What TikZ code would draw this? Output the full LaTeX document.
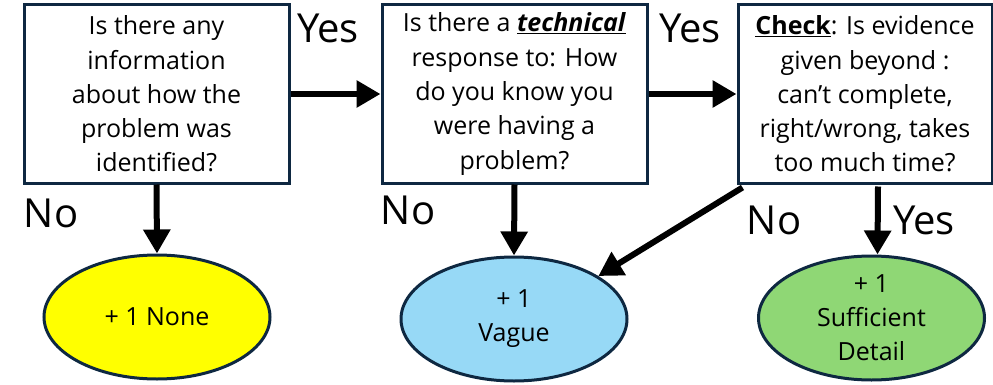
\documentclass[tikz,border=0pt]{standalone}
\usepackage{fontspec}
\setmainfont{Open Sans}
\usetikzlibrary{shapes.geometric,arrows.meta,calc}
\definecolor{navy}{HTML}{0E2841}
\definecolor{eyellow}{HTML}{FFFF00}
\definecolor{eblue}{HTML}{97D9F6}
\definecolor{egreen}{HTML}{8FD775}
\tikzset{
  qbox/.style={draw=navy, line width=3pt, fill=white, minimum height=178pt, inner sep=0pt,
    align=center, font=\fontsize{25}{34.3}\selectfont},
  outcome/.style={ellipse, draw=navy, line width=3pt, minimum width=226pt, minimum height=124pt,
    inner sep=0pt, align=center, font=\fontsize{25}{34}\selectfont},
  flow/.style={line width=6pt, -{Triangle[length=24pt,width=26pt]}},
  answer/.style={font=\fontsize{40}{44}\selectfont, inner sep=0pt}
}
\begin{document}
\begin{tikzpicture}[x=1pt,y=1pt]
\useasboundingbox (0,0) rectangle (993,384);
\node[qbox, minimum width=265pt] (b1) at (156.5,290) {Is there any\\information\\about how the\\problem was\\identified?};
\node[qbox, minimum width=265pt] (b2) at (514.5,290) {Is there a \underline{\textbf{\textit{technical}}}\\response to: How\\do you know you\\were having a\\problem?};
\node[qbox, minimum width=254pt] (b3) at (865,290) {\underline{\textbf{Check}}: Is evidence\\given beyond :\\can’t complete,\\right/wrong, takes\\too much time?};
\node[outcome, fill=eyellow] (e1) at (157,67) {+ 1 None};
\node[outcome, fill=eblue] (e2) at (514,65) {+ 1\\Vague};
\node[outcome, fill=egreen] (e3) at (871.5,66) {+ 1\\Sufficient\\Detail};
\draw[flow] (b1.east) -- (b2.west);
\draw[flow] (b2.east) -- (b3.west);
\draw[flow] (b1.south) -- (e1.north);
\draw[flow] (b2.south) -- (e2.north);
\draw[flow] ($(b3.south)+(13,-2)$) -- ($(e3.north)+(6,0)$);
\draw[flow] ($(b3.south west)+(6,-3)$) -- (e2.27);
\node[answer] (y1) at (328,356) {Yes};
\node[answer] (y2) at (690,356) {Yes};
\node[answer] (n1) at (51,171) {No};
\node[answer] (n2) at (408,174) {No};
\node[answer] (n3) at (774,164) {No};
\node[answer] (y3) at (924,164) {Yes};
\end{tikzpicture}
\end{document}
